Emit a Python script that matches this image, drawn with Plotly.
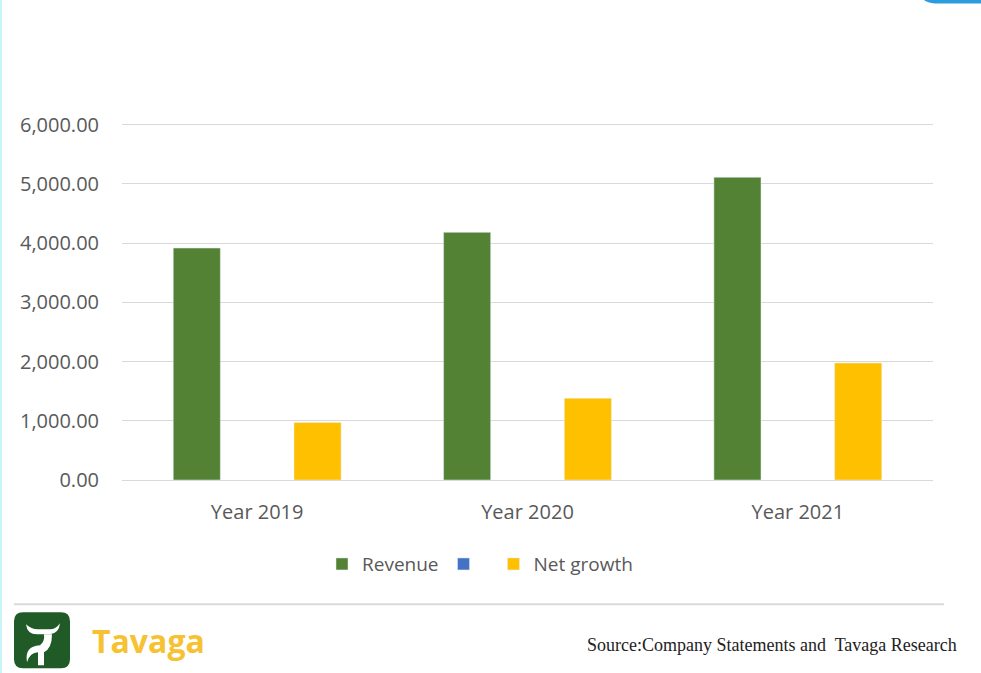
import plotly.graph_objects as go

categories = ["Year 2019", "Year 2020", "Year 2021"]
revenue = [3915, 4180, 5110]
blank_series = [None, None, None]
net_growth = [970, 1380, 1975]
y_ticks = [0, 1000, 2000, 3000, 4000, 5000, 6000]

W, H = 981, 673
L, R, T, B = 122, 933, 125, 480
Y_TOP = 6060
T_PLOT = B - (B - T) * Y_TOP / 6000

def px(x):
    return (x - L) / (R - L)

def py(y):
    return (B - y) / (B - T_PLOT)

fig = go.Figure()
fig.add_trace(go.Bar(x=categories, y=revenue, name="Revenue", marker_color="#548235"))
fig.add_trace(go.Bar(x=categories, y=blank_series, name=" ", marker_color="#4472C4"))
fig.add_trace(go.Bar(x=categories, y=net_growth, name="Net growth", marker_color="#FFC000"))

axis_font = dict(family="Open Sans, Lato, sans-serif", size=20, color="#595959")

fig.update_layout(
    width=W, height=H,
    margin=dict(l=L, r=W - R, t=T_PLOT, b=H - B, autoexpand=False),
    paper_bgcolor="white", plot_bgcolor="white",
    barmode="group", bargap=0.33, bargroupgap=0.22,
    showlegend=True,
    legend=dict(orientation="h", x=px(480), xanchor="center", y=py(564), yanchor="middle",
                font=dict(family="Open Sans, Lato, sans-serif", size=19, color="#595959"),
                itemwidth=30, traceorder="normal"),
    xaxis=dict(showgrid=False, showline=True, linecolor="#d9d9d9", linewidth=1,
               ticks="", tickfont=axis_font, ticklabelstandoff=14),
    yaxis=dict(range=[0, Y_TOP], tickvals=y_ticks, tickformat=",.2f",
               showgrid=True, gridcolor="#d9d9d9", gridwidth=1,
               zeroline=False, showline=False, ticks="",
               tickfont=axis_font, ticklabelstandoff=22),
)

shapes = []
# footer divider
shapes.append(dict(type="line", xref="paper", yref="paper", x0=px(14), x1=px(944), y0=py(604), y1=py(604),
                   line=dict(color="#d9d9d9", width=2)))
# left cyan border
shapes.append(dict(type="line", xref="paper", yref="paper", x0=px(1), x1=px(1), y0=py(0), y1=py(673),
                   line=dict(color="#c8f4f8", width=2)))
# top-right blue tab
shapes.append(dict(type="path", xref="paper", yref="paper",
                   path=f"M {px(922)},{py(-2)} L {px(985)},{py(-2)} L {px(985)},{py(4)} L {px(935)},{py(4)} Q {px(924)},{py(3)} {px(922)},{py(-2)} Z",
                   fillcolor="#2d9be0", line=dict(width=0)))
# logo rounded square
x0, x1, y0, y1, r = 14, 70, 612, 668, 9
path = (f"M {px(x0+r)},{py(y0)} L {px(x1-r)},{py(y0)} Q {px(x1)},{py(y0)} {px(x1)},{py(y0+r)} "
        f"L {px(x1)},{py(y1-r)} Q {px(x1)},{py(y1)} {px(x1-r)},{py(y1)} "
        f"L {px(x0+r)},{py(y1)} Q {px(x0)},{py(y1)} {px(x0)},{py(y1-r)} "
        f"L {px(x0)},{py(y0+r)} Q {px(x0)},{py(y0)} {px(x0+r)},{py(y0)} Z")
shapes.append(dict(type="path", xref="paper", yref="paper", path=path,
                   fillcolor="#1f5a27", line=dict(width=0)))
# stylised white bull
bull = (f"M {px(26)},{py(624)} Q {px(27)},{py(634)} {px(37)},{py(634)} L {px(50)},{py(634)} "
        f"Q {px(59)},{py(633)} {px(60)},{py(623)} Q {px(56)},{py(629)} {px(50)},{py(629)} "
        f"L {px(38)},{py(629)} Q {px(31)},{py(629)} {px(26)},{py(624)} Z")
shapes.append(dict(type="path", xref="paper", yref="paper", path=bull,
                   fillcolor="white", line=dict(width=0)))
body = (f"M {px(44)},{py(634)} L {px(52)},{py(634)} Q {px(52)},{py(648)} {px(44)},{py(652)} "
        f"L {px(44)},{py(665)} L {px(38)},{py(665)} L {px(38)},{py(652)} "
        f"Q {px(30)},{py(652)} {px(27)},{py(662)} Q {px(24)},{py(646)} {px(40)},{py(645)} "
        f"Q {px(45)},{py(641)} {px(44)},{py(634)} Z")
shapes.append(dict(type="path", xref="paper", yref="paper", path=body,
                   fillcolor="white", line=dict(width=0)))
fig.update_layout(shapes=shapes)

fig.add_annotation(xref="paper", yref="paper", x=px(90), y=py(640), xanchor="left", yanchor="middle",
                   text="<b>Tavaga</b>", showarrow=False,
                   font=dict(family="Open Sans, Lato, sans-serif", size=32, color="#F7C231"))
fig.add_annotation(xref="paper", yref="paper", x=px(959), y=py(645), xanchor="right", yanchor="middle",
                   text="Source:Company Statements and  Tavaga Research", showarrow=False,
                   font=dict(family="Liberation Serif, Times New Roman, serif", size=18, color="#222222"))

fig.write_html("out.html", config={"displayModeBar": False},
               post_script="document.body.style.margin='0';document.body.style.overflow='hidden';")
